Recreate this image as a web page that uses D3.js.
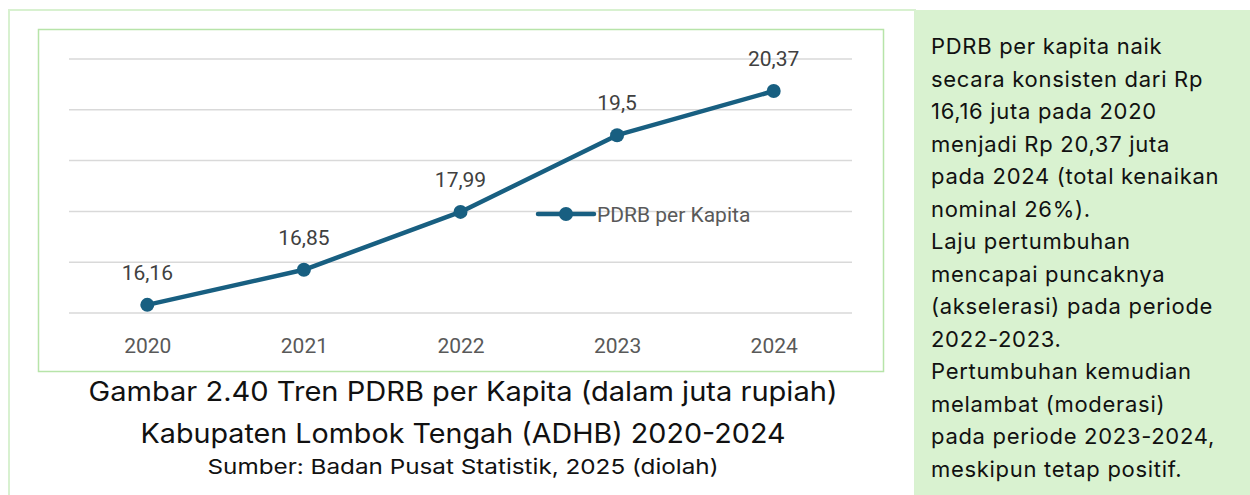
<!DOCTYPE html>
<html>
<head>
<meta charset="utf-8">
<script src="https://cdn.jsdelivr.net/npm/d3@7"></script>
<style>
  body { margin: 0; background: #fff; }
  svg { display: block; }
</style>
</head>
<body>
<div id="chart"></div>
<script>
// DATA
const years = ["2020", "2021", "2022", "2023", "2024"];
const pdrbValues = [16.16, 16.85, 17.99, 19.5, 20.37];
const valueLabels = ["16,16", "16,85", "17,99", "19,5", "20,37"];
const gridTicks = [16, 17, 18, 19, 20, 21];
const seriesName = "PDRB per Kapita";
const captionLines = [
    "Gambar 2.40 Tren PDRB per Kapita (dalam juta rupiah)",
    "Kabupaten Lombok Tengah (ADHB) 2020-2024"
];
const sourceLine = "Sumber: Badan Pusat Statistik, 2025 (diolah)";
const noteLines = [
    "PDRB per kapita naik",
    "secara konsisten dari Rp",
    "16,16 juta pada 2020",
    "menjadi Rp 20,37 juta",
    "pada 2024 (total kenaikan",
    "nominal 26%).",
    "Laju pertumbuhan",
    "mencapai puncaknya",
    "(akselerasi) pada periode",
    "2022-2023.",
    "Pertumbuhan kemudian",
    "melambat (moderasi)",
    "pada periode 2023-2024,",
    "meskipun tetap positif."
];

const W = 1250, H = 495;
const lineColor = "#185f81";

const svg = d3.select("#chart")
    .append("svg")
    .attr("width", W)
    .attr("height", H);

// OUTER FRAME
svg.append("rect")
    .attr("x", 9).attr("y", 10)
    .attr("width", 906).attr("height", 500)
    .attr("fill", "none")
    .attr("stroke", "#d8f1d0")
    .attr("stroke-width", 2);

// NOTE PANEL
svg.append("rect")
    .attr("x", 915).attr("y", 10)
    .attr("width", 335).attr("height", 490)
    .attr("fill", "#d9f2d0");

svg.append("g")
    .selectAll("text")
    .data(noteLines)
    .enter()
    .append("text")
    .attr("x", 931)
    .attr("y", (d, i) => 54 + i * 32.5)
    .attr("font-family", "Inter, sans-serif")
    .attr("font-size", "22px")
    .attr("letter-spacing", "0.7px")
    .attr("fill", "#111")
    .text(d => d);

// CHART BOX
svg.append("rect")
    .attr("x", 38.5).attr("y", 29.5)
    .attr("width", 845).attr("height", 342)
    .attr("fill", "#fff")
    .attr("stroke", "#b7e4a9")
    .attr("stroke-width", 1.5);

const plot = { left: 69, right: 852, top: 59, bottom: 313 };

const x = d3.scalePoint()
    .domain(years)
    .range([plot.left, plot.right])
    .padding(0.5);

const y = d3.scaleLinear()
    .domain([16, 21])
    .range([plot.bottom, plot.top]);

// GRIDLINES
svg.append("g")
    .selectAll("line")
    .data(gridTicks)
    .enter()
    .append("line")
    .attr("x1", plot.left).attr("x2", plot.right)
    .attr("y1", d => y(d)).attr("y2", d => y(d))
    .attr("stroke", "#d9d9d9")
    .attr("stroke-width", 1.5);

// X AXIS
const xAxis = svg.append("g")
    .attr("transform", `translate(0,${plot.bottom})`)
    .call(d3.axisBottom(x).tickSize(0).tickPadding(25));
xAxis.select(".domain").remove();
xAxis.selectAll("text")
    .attr("font-family", "Roboto, sans-serif")
    .attr("font-size", "21px")
    .attr("fill", "#595959");

const data = years.map((yr, i) => ({ year: yr, value: pdrbValues[i], label: valueLabels[i] }));

// LINE
svg.append("path")
    .datum(data)
    .attr("fill", "none")
    .attr("stroke", lineColor)
    .attr("stroke-width", 4.5)
    .attr("stroke-linejoin", "round")
    .attr("d", d3.line().x(d => x(d.year)).y(d => y(d.value)));

svg.append("g")
    .selectAll("circle")
    .data(data)
    .enter()
    .append("circle")
    .attr("cx", d => x(d.year))
    .attr("cy", d => y(d.value))
    .attr("r", 7)
    .attr("fill", lineColor);

// DATA LABELS
svg.append("g")
    .selectAll("text")
    .data(data)
    .enter()
    .append("text")
    .attr("x", d => x(d.year))
    .attr("y", d => y(d.value) - 25)
    .attr("text-anchor", "middle")
    .attr("font-family", "Roboto, sans-serif")
    .attr("font-size", "21px")
    .attr("fill", "#404040")
    .text(d => d.label);

// LEGEND
const legend = svg.append("g")
    .attr("transform", "translate(538,214)");
legend.append("line")
    .attr("x1", 0).attr("x2", 56)
    .attr("stroke", lineColor)
    .attr("stroke-width", 4.5)
    .attr("stroke-linecap", "round");
legend.append("circle")
    .attr("cx", 28).attr("r", 7)
    .attr("fill", lineColor);
legend.append("text")
    .attr("x", 59)
    .attr("y", 7.5)
    .attr("font-family", "Roboto, sans-serif")
    .attr("font-size", "21px")
    .attr("fill", "#595959")
    .text(seriesName);

// CAPTION
const capWidths = [749, 645];
svg.append("g")
    .selectAll("text")
    .data(captionLines)
    .enter()
    .append("text")
    .attr("x", 463)
    .attr("y", (d, i) => 401 + i * 42)
    .attr("text-anchor", "middle")
    .attr("font-family", "Inter, sans-serif")
    .attr("font-size", "27px")
    .attr("fill", "#111")
    .attr("textLength", (d, i) => capWidths[i])
    .attr("lengthAdjust", "spacingAndGlyphs")
    .text(d => d);

svg.append("text")
    .attr("x", 463)
    .attr("y", 474)
    .attr("text-anchor", "middle")
    .attr("font-family", "Inter, sans-serif")
    .attr("font-size", "20.5px")
    .attr("fill", "#111")
    .attr("textLength", 511)
    .attr("lengthAdjust", "spacingAndGlyphs")
    .text(sourceLine);
</script>
</body>
</html>
